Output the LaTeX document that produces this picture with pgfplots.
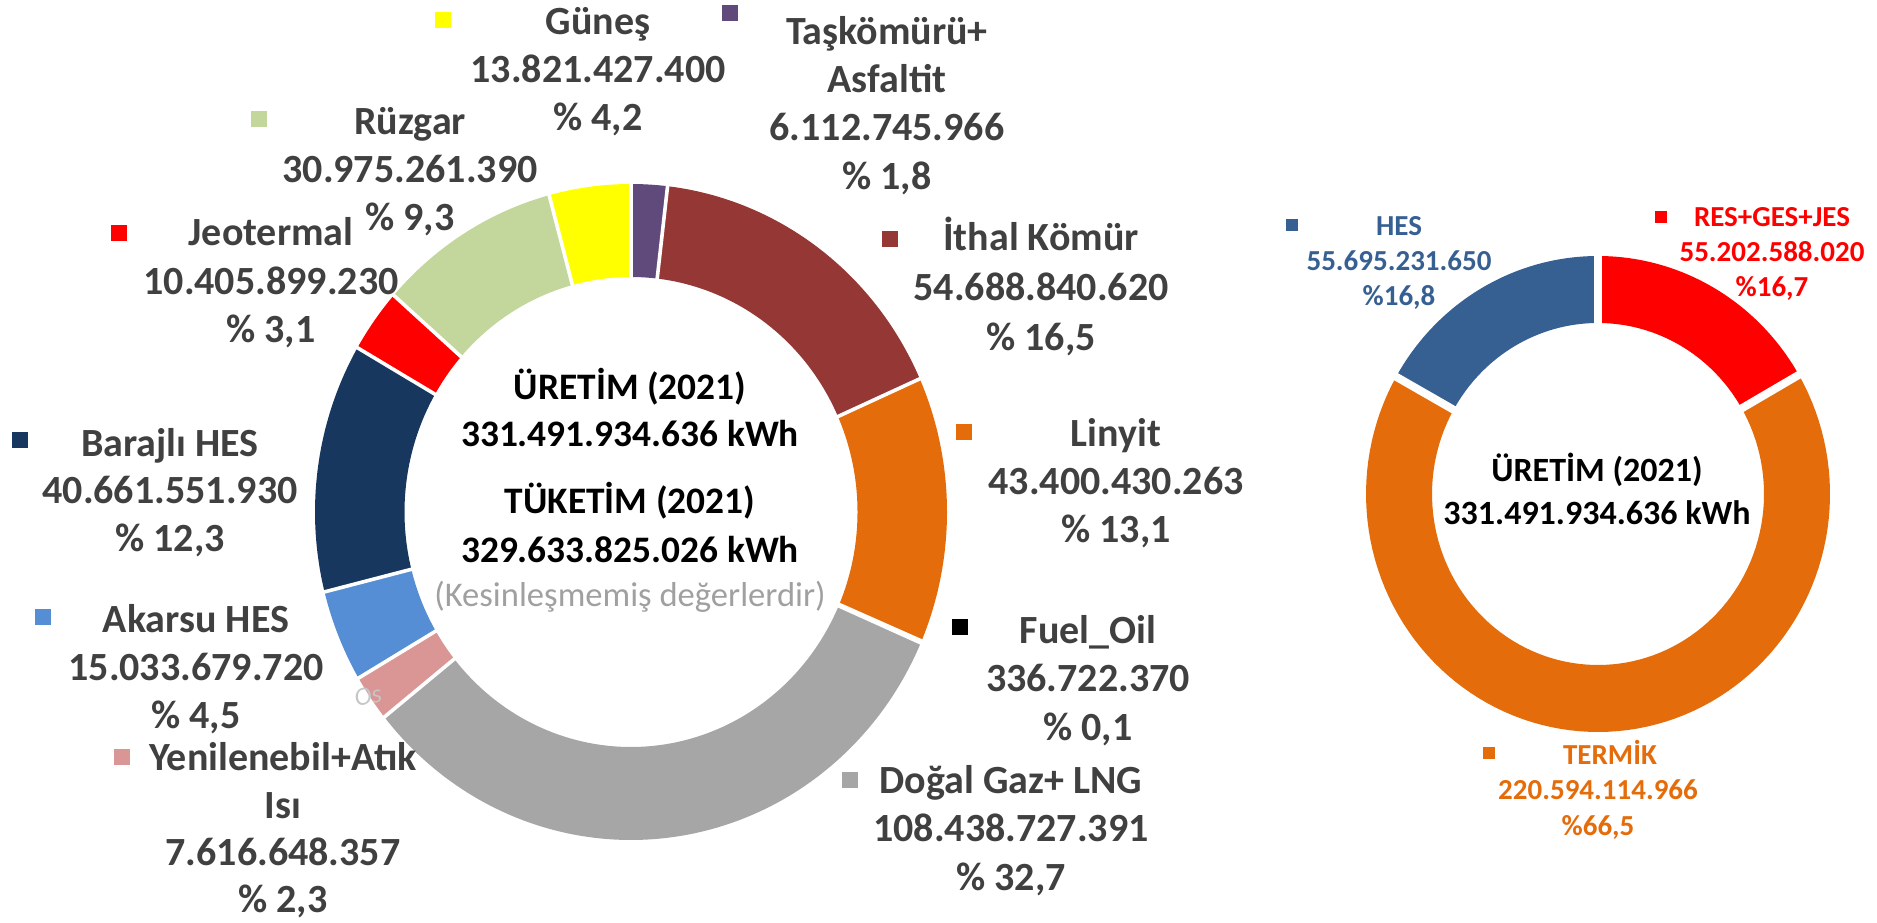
\documentclass[border=0pt]{standalone}
\usepackage{fontspec}
\setmainfont{Carlito}
\usepackage{pgfplots}
\pgfplotsset{compat=1.18}
\definecolor{cGunes}{HTML}{FFFF00}
\definecolor{cTas}{HTML}{604A7B}
\definecolor{cIthal}{HTML}{953735}
\definecolor{cLinyit}{HTML}{E46C0A}
\definecolor{cFuel}{HTML}{000000}
\definecolor{cDogal}{HTML}{A6A6A6}
\definecolor{cYenil}{HTML}{D99694}
\definecolor{cAkarsu}{HTML}{558ED5}
\definecolor{cBaraj}{HTML}{17375E}
\definecolor{cJeo}{HTML}{FF0000}
\definecolor{cRuz}{HTML}{C3D69B}
\definecolor{cHes}{HTML}{376092}
\definecolor{cRes}{HTML}{FF0000}
\definecolor{cTermik}{HTML}{E46C0A}
\definecolor{cLbl}{HTML}{404040}
\definecolor{cKes}{HTML}{A0A0A0}

% donut segment: cx cy Rx Ry rx ry startangle endangle color
\newcommand\donutseg[9]{%
  \edef\tmp{\noexpand\addplot[fill=#9, draw=none, variable=\noexpand\t, samples at={0,1,...,201}]
  ({(#1)+ifthenelse(\noexpand\t<100.5,#3,#5)*cos(ifthenelse(\noexpand\t<100.5,(#7)+((#8)-(#7))*(\noexpand\t/100),(#8)+((#7)-(#8))*((\noexpand\t-101)/100)))},
   {(#2)+ifthenelse(\noexpand\t<100.5,#4,#6)*sin(ifthenelse(\noexpand\t<100.5,(#7)+((#8)-(#7))*(\noexpand\t/100),(#8)+((#7)-(#8))*((\noexpand\t-101)/100)))});}%
  \tmp}
% separator: cx cy Rx Ry rx ry angle width
\newcommand\sepline[8]{%
  \edef\tmp{\noexpand\addplot[draw=white, line width=#8, variable=\noexpand\t, samples at={0,1}]
  ({(#1)+((#5)-4+((#3)-(#5)+8)*\noexpand\t)*cos(#7)}, {(#2)+((#6)-4+((#4)-(#6)+8)*\noexpand\t)*sin(#7)});}%
  \tmp}

% main donut (values in billion kWh, clockwise from top)
\newcommand\segA[2]{%
  \pgfmathsetmacro\angS{90-360*(\cumA/331.492)}%
  \pgfmathsetmacro\cumA{\cumA+#1}%
  \pgfmathsetmacro\angE{90-360*(\cumA/331.492)}%
  \donutseg{631}{410}{316}{328}{226.5}{235}{\angS}{\angE}{#2}}
\newcommand\sepA[1]{%
  \pgfmathsetmacro\cumA{\cumA+#1}%
  \pgfmathsetmacro\angE{90-360*(\cumA/331.492)}%
  \sepline{631}{410}{316}{328}{226.5}{235}{\angE}{1.8pt}}
% second donut
\newcommand\segB[2]{%
  \pgfmathsetmacro\angS{90-360*(\cumA/331.492)}%
  \pgfmathsetmacro\cumA{\cumA+#1}%
  \pgfmathsetmacro\angE{90-360*(\cumA/331.492)}%
  \donutseg{1598}{428}{232}{238}{166}{171}{\angS}{\angE}{#2}}
\newcommand\sepB[1]{%
  \pgfmathsetmacro\cumA{\cumA+#1}%
  \pgfmathsetmacro\angE{90-360*(\cumA/331.492)}%
  \sepline{1598}{428}{232}{238}{166}{171}{\angE}{4pt}}

\newcommand\lblfont{\fontsize{20}{24}\selectfont\bfseries}
\newcommand\smlfont{\fontsize{14.5}{17}\selectfont\bfseries}
\newcommand\lblM[3]{\node[font=\lblfont, text=cLbl, anchor=base, inner sep=0pt] at (axis cs:#1,#2) {#3};}
\newcommand\lblS[4]{\node[font=\smlfont, text=#4, anchor=base, inner sep=0pt] at (axis cs:#1,#2) {#3};}
\newcommand\keyM[4]{\addplot[only marks, mark=square*, mark size=#3, color=#4] coordinates {(#1,#2)};}

\begin{document}
\begin{tikzpicture}
\begin{axis}[x=0.5pt, y=0.5pt, xmin=0, xmax=1877, ymin=0, ymax=922,
  hide axis, scale only axis, clip=false, anchor=south west, at={(0,0)}]
% ---- main donut ----
\def\cumA{0}
\segA{6.113}{cTas}
\segA{54.689}{cIthal}
\segA{43.400}{cLinyit}
\segA{0.337}{cFuel}
\segA{108.439}{cDogal}
\segA{7.617}{cYenil}
\segA{15.034}{cAkarsu}
\segA{40.662}{cBaraj}
\segA{10.406}{cJeo}
\segA{30.975}{cRuz}
\segA{13.821}{cGunes}
\def\cumA{0}
\sepA{0}
\sepA{6.113}
\sepA{54.689}
\sepA{43.400}
\sepA{0.337}
\sepA{108.439}
\sepA{7.617}
\sepA{15.034}
\sepA{40.662}
\sepA{10.406}
\sepA{30.975}
% ---- second donut ----
\def\cumA{0}
\segB{55.203}{cRes}
\segB{220.594}{cTermik}
\segB{55.695}{cHes}
\def\cumA{0}
\sepB{0}
\sepB{55.203}
\sepB{220.594}

% ---- legend keys ----
\keyM{443}{902}{3.7pt}{cGunes}
\keyM{730}{909}{3.7pt}{cTas}
\keyM{259}{803}{3.7pt}{cRuz}
\keyM{119}{689}{3.7pt}{cJeo}
\keyM{890}{683}{3.7pt}{cIthal}
\keyM{964}{490}{3.7pt}{cLinyit}
\keyM{960}{295}{3.7pt}{cFuel}
\keyM{850}{142}{3.7pt}{cDogal}
\keyM{20}{482}{3.7pt}{cBaraj}
\keyM{43}{305}{3.7pt}{cAkarsu}
\keyM{122}{165}{3.7pt}{cYenil}
\keyM{1292}{697}{2.8pt}{cHes}
\keyM{1661}{705}{2.8pt}{cRes}
\keyM{1489}{169}{2.8pt}{cTermik}

% ---- labels main ----
\lblM{598}{887}{Güneş}
\lblM{598}{839}{13.821.427.400}
\lblM{598}{791}{\% 4,2}
\lblM{887}{877}{Taşkömürü+}
\lblM{887}{829}{Asfaltit}
\lblM{887}{781}{6.112.745.966}
\lblM{887}{732}{\% 1,8}
\lblM{410}{787}{Rüzgar}
\lblM{410}{739}{30.975.261.390}
\lblM{410}{691}{\% 9,3}
\lblM{271}{676}{Jeotermal}
\lblM{271}{627}{10.405.899.230}
\lblM{271}{579}{\% 3,1}
\lblM{1041}{671}{İthal Kömür}
\lblM{1041}{621}{54.688.840.620}
\lblM{1041}{571}{\% 16,5}
\lblM{1116}{476}{Linyit}
\lblM{1116}{428}{43.400.430.263}
\lblM{1116}{380}{\% 13,1}
\lblM{1088}{279}{Fuel\_Oil}
\lblM{1088}{231}{336.722.370}
\lblM{1088}{182}{\% 0,1}
\lblM{1011}{129}{Doğal Gaz+ LNG}
\lblM{1011}{81}{108.438.727.391}
\lblM{1011}{32}{\% 32,7}
\lblM{170}{466}{Barajlı HES}
\lblM{170}{419}{40.661.551.930}
\lblM{170}{371}{\% 12,3}
\lblM{196}{290}{Akarsu HES}
\lblM{196}{242}{15.033.679.720}
\lblM{196}{194}{\% 4,5}
\lblM{283}{152}{Yenilenebil+Atık}
\lblM{283}{104}{Isı}
\lblM{283}{57}{7.616.648.357}
\lblM{283}{10}{\% 2,3}

% ---- labels second ----
\lblS{1399}{686}{HES}{cHes}
\lblS{1399}{651}{55.695.231.650}{cHes}
\lblS{1399}{616}{\%16,8}{cHes}
\lblS{1772}{695}{RES+GES+JES}{cRes}
\lblS{1772}{660}{55.202.588.020}{cRes}
\lblS{1772}{625}{\%16,7}{cRes}
\lblS{1610}{158}{TERMİK}{cTermik}
\lblS{1598}{123}{220.594.114.966}{cTermik}
\lblS{1598}{87}{\%66,5}{cTermik}

% ---- centre texts ----
\node[font=\fontsize{18.7}{22}\selectfont\bfseries, anchor=base, inner sep=0pt] at (axis cs:630,523) {ÜRETİM (2021)};
\node[font=\fontsize{18.7}{22}\selectfont\bfseries, anchor=base, inner sep=0pt] at (axis cs:630,475) {331.491.934.636 kWh};
\node[font=\fontsize{18.7}{22}\selectfont\bfseries, anchor=base, inner sep=0pt] at (axis cs:630,409) {TÜKETİM (2021)};
\node[font=\fontsize{18.7}{22}\selectfont\bfseries, anchor=base, inner sep=0pt] at (axis cs:630,360) {329.633.825.026 kWh};
\node[font=\fontsize{17.3}{20}\selectfont, text=cKes, anchor=base, inner sep=0pt] at (axis cs:630,316) {(Kesinleşmemiş değerlerdir)};
\node[font=\fontsize{17}{20}\selectfont\bfseries, anchor=base, inner sep=0pt] at (axis cs:1597,441) {ÜRETİM (2021)};
\node[font=\fontsize{17}{20}\selectfont\bfseries, anchor=base, inner sep=0pt] at (axis cs:1597,398) {331.491.934.636 kWh};
\node[font=\fontsize{13}{13}\selectfont\itshape, text=gray!45, rotate=10] at (axis cs:368,226) {Os};
\end{axis}
\pgfresetboundingbox
\path[use as bounding box] (0,0) rectangle (938.5pt,461pt);
\end{tikzpicture}
\end{document}
